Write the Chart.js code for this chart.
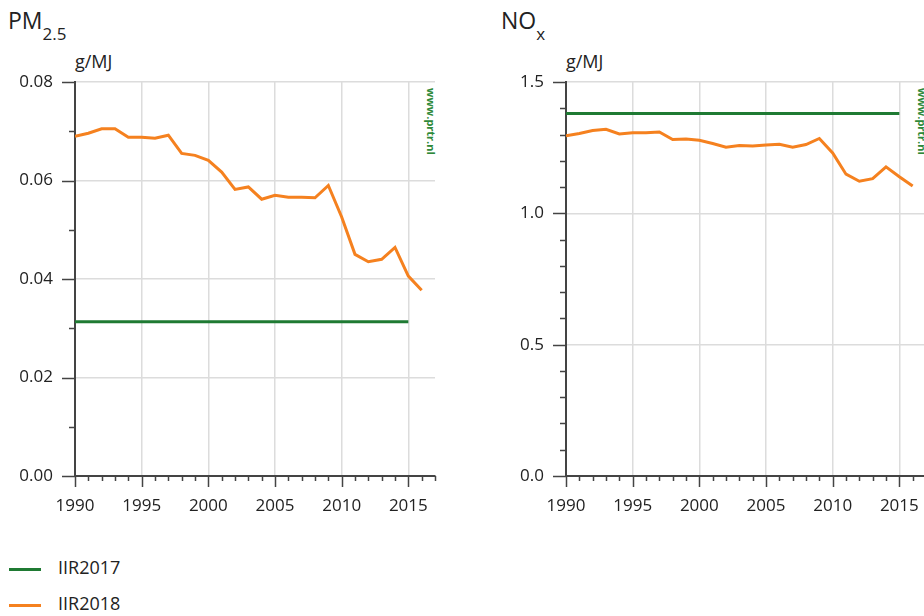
<!DOCTYPE html>
<html>
<head>
<meta charset="utf-8">
<script src="https://cdn.jsdelivr.net/npm/chart.js@4/dist/chart.umd.min.js"></script>
<style>
  html, body { margin: 0; padding: 0; background: #fff; overflow: hidden; }
  body { width: 924px; height: 616px; position: relative; font-family: "Open Sans", sans-serif; color: #222; }
  .box { position: absolute; top: 0; width: 460px; height: 530px; }
  .title { position: absolute; font-size: 23px; }
  .title sub { font-size: 17px; vertical-align: -11px; }
  .unit { position: absolute; font-size: 18px; top: 49px; }
  .mark { position: absolute; top: 88px; writing-mode: vertical-rl; font-size: 11px; font-weight: bold; color: #2f8a3a; }
  .leg { position: absolute; left: 9px; font-size: 18px; }
  .leg span { display: inline-block; width: 32px; height: 3px; vertical-align: middle; margin-right: 17px; }
</style>
</head>
<body>
<div class="title" style="left:8px;top:4px">PM<sub>2.5</sub></div>
<div class="title" style="left:501px;top:4px">NO<sub>x</sub></div>
<div class="unit" style="left:75px">g/MJ</div>
<div class="unit" style="left:566px">g/MJ</div>
<div class="mark" style="left:424px">www.prtr.nl</div>
<div class="mark" style="left:915px">www.prtr.nl</div>
<div class="box" style="left:0"><canvas id="pm"></canvas></div>
<div class="box" style="left:491px"><canvas id="nox"></canvas></div>
<div class="leg" style="top:555px"><span style="background:#1f7a33"></span>IIR2017</div>
<div class="leg" style="top:591px"><span style="background:#f5811f"></span>IIR2018</div>

<script>
// data
const years2018 = [1990, 1991, 1992, 1993, 1994, 1995, 1996, 1997, 1998, 1999, 2000, 2001, 2002, 2003,
                   2004, 2005, 2006, 2007, 2008, 2009, 2010, 2011, 2012, 2013, 2014, 2015, 2016];
const years2017 = [1990, 1991, 1992, 1993, 1994, 1995, 1996, 1997, 1998, 1999, 2000, 2001, 2002, 2003,
                   2004, 2005, 2006, 2007, 2008, 2009, 2010, 2011, 2012, 2013, 2014, 2015];

const pm25_2018 = [0.0690, 0.0696, 0.0705, 0.0705, 0.0688, 0.0688, 0.0686, 0.0692, 0.0655, 0.0651,
                   0.0641, 0.0617, 0.0582, 0.0587, 0.0562, 0.0570, 0.0566, 0.0566, 0.0565, 0.0590,
                   0.0526, 0.0450, 0.0435, 0.0440, 0.0464, 0.0406, 0.0377];
const pm25_2017 = [0.0313, 0.0313, 0.0313, 0.0313, 0.0313, 0.0313, 0.0313, 0.0313, 0.0313, 0.0313,
                   0.0313, 0.0313, 0.0313, 0.0313, 0.0313, 0.0313, 0.0313, 0.0313, 0.0313, 0.0313,
                   0.0313, 0.0313, 0.0313, 0.0313, 0.0313, 0.0313];

const nox_2018 = [1.295, 1.304, 1.315, 1.320, 1.302, 1.307, 1.307, 1.310, 1.281, 1.283,
                  1.278, 1.266, 1.252, 1.258, 1.256, 1.260, 1.263, 1.252, 1.262, 1.285,
                  1.230, 1.149, 1.122, 1.132, 1.177, 1.139, 1.104];
const nox_2017 = [1.380, 1.380, 1.380, 1.380, 1.380, 1.380, 1.380, 1.380, 1.380, 1.380,
                  1.380, 1.380, 1.380, 1.380, 1.380, 1.380, 1.380, 1.380, 1.380, 1.380,
                  1.380, 1.380, 1.380, 1.380, 1.380, 1.380];

const green = '#1f7a33';
const orange = '#f5811f';
const font = { family: 'Open Sans', size: 17 };

// draws the major/minor tick marks on both axes
const tickMarks = {
    id: 'tickMarks',
    afterDraw(chart, args, opts) {
        const ctx = chart.ctx;
        const xs = chart.scales.x, ys = chart.scales.y;
        ctx.save();
        ctx.strokeStyle = '#444';
        ctx.lineWidth = 1.5;
        ctx.beginPath();
        xs.ticks.forEach(t => {
            const px = Math.round(xs.getPixelForValue(t.value)) + 0.5;
            const len = t.value % 5 === 0 ? 11 : 5;
            ctx.moveTo(px, xs.top);
            ctx.lineTo(px, xs.top + len);
        });
        ys.ticks.forEach(t => {
            const py = Math.round(ys.getPixelForValue(t.value)) + 0.5;
            const len = opts.isMajor(t.value) ? 13 : 6;
            ctx.moveTo(ys.right - len, py);
            ctx.lineTo(ys.right, py);
        });
        ctx.stroke();
        ctx.restore();
    }
};

function makeChart(id, d2017, d2018, yMax, yStep, isMajor, fmt) {
    new Chart(document.getElementById(id), {
        type: 'line',
        data: {
            datasets: [{
                label: 'IIR2017',
                data: years2017.map((x, i) => ({ x: x, y: d2017[i] })),
                borderColor: green,
                borderWidth: 3,
                pointRadius: 0
            }, {
                label: 'IIR2018',
                data: years2018.map((x, i) => ({ x: x, y: d2018[i] })),
                borderColor: orange,
                borderWidth: 3,
                pointRadius: 0
            }]
        },
        options: {
            responsive: false,
            animation: false,
            layout: { padding: { top: 82, right: 25, left: 0, bottom: 0 } },
            plugins: {
                legend: { display: false },
                tooltip: { enabled: false },
                tickMarks: { isMajor: isMajor }
            },
            scales: {
                x: {
                    type: 'linear',
                    min: 1990,
                    max: 2017,
                    afterFit(scale) { scale.height = 54; },
                    border: { color: '#444', width: 2 },
                    grid: {
                        drawTicks: false,
                        lineWidth: 1.5,
                        color: c => (c.tick.value % 5 === 0 && c.tick.value > 1990) ? '#dcdcdc' : 'rgba(0,0,0,0)'
                    },
                    ticks: {
                        stepSize: 1,
                        autoSkip: false,
                        maxRotation: 0,
                        padding: 20,
                        color: '#222',
                        font: font,
                        callback: v => v % 5 === 0 ? String(v) : ''
                    }
                },
                y: {
                    min: 0,
                    max: yMax,
                    afterFit(scale) { scale.width = 75; },
                    border: { color: '#444', width: 2 },
                    grid: {
                        drawTicks: false,
                        lineWidth: 1.5,
                        color: c => (isMajor(c.tick.value) && c.tick.value > 0) ? '#dcdcdc' : 'rgba(0,0,0,0)'
                    },
                    ticks: {
                        stepSize: yStep,
                        autoSkip: false,
                        padding: 22,
                        color: '#222',
                        font: font,
                        callback: v => isMajor(v) ? fmt(v) : ''
                    }
                }
            }
        },
        plugins: [tickMarks]
    });
}

function sizeCanvas(id) {
    const c = document.getElementById(id);
    c.width = 460; c.height = 530;
    c.style.width = '460px'; c.style.height = '530px';
}
sizeCanvas('pm');
sizeCanvas('nox');

makeChart('pm', pm25_2017, pm25_2018, 0.08, 0.01,
    v => Math.round(v * 100) % 2 === 0, v => v.toFixed(2));
makeChart('nox', nox_2017, nox_2018, 1.5, 0.1,
    v => Math.round(v * 10) % 5 === 0, v => v.toFixed(1));
</script>
</body>
</html>
